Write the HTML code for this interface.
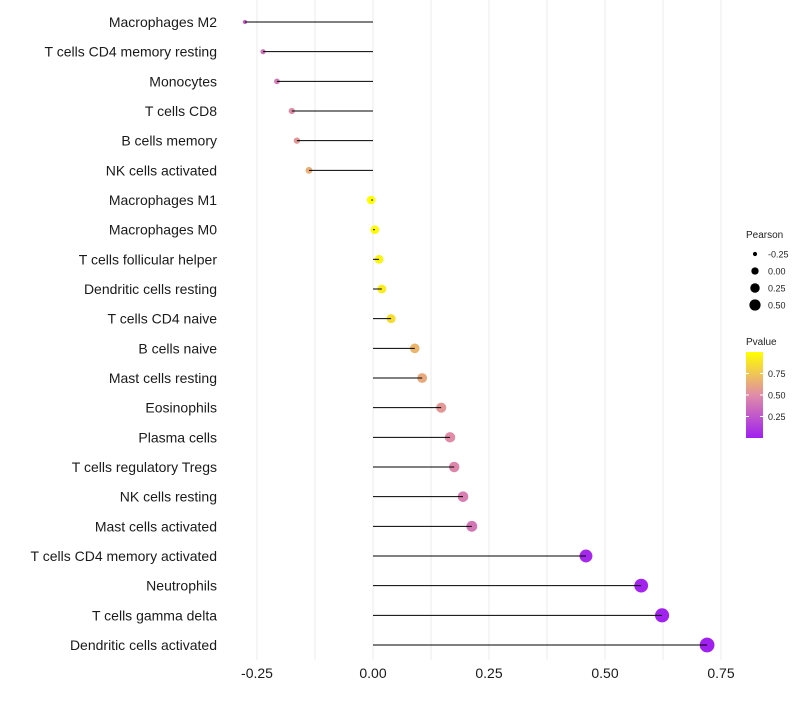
<!DOCTYPE html>
<html><head><meta charset="utf-8"><style>
body{margin:0;background:#fff;}
svg{font-family:"Liberation Sans",sans-serif;}
</style></head><body>
<svg id="chart" width="800" height="700"></svg>
<script>
const categories=["Macrophages M2","T cells CD4 memory resting","Monocytes","T cells CD8","B cells memory","NK cells activated","Macrophages M1","Macrophages M0","T cells follicular helper","Dendritic cells resting","T cells CD4 naive","B cells naive","Mast cells resting","Eosinophils","Plasma cells","T cells regulatory  Tregs ","NK cells resting","Mast cells activated","T cells CD4 memory activated","Neutrophils","T cells gamma delta","Dendritic cells activated"];
const pearson=[-0.276,-0.237,-0.207,-0.175,-0.164,-0.138,-0.004,0.004,0.013,0.019,0.039,0.09,0.106,0.147,0.166,0.175,0.194,0.213,0.459,0.578,0.623,0.72];
const pvalue=[0.3,0.38,0.42,0.5,0.55,0.65,1.0,0.98,0.95,0.92,0.85,0.68,0.63,0.55,0.5,0.47,0.44,0.4,0.04,0.02,0.01,0.0];
const xTicks=[-0.25,0,0.25,0.5,0.75];
const xTickLabels=["-0.25","0.00","0.25","0.50","0.75"];
const sizeLegend=[-0.25,0,0.25,0.5];
const sizeLegendLabels=["-0.25","0.00","0.25","0.50"];
const pLegendTicks=[0.75,0.5,0.25];

const svg=document.getElementById('chart');
const NS="http://www.w3.org/2000/svg";
function mk(t,a,p){const e=document.createElementNS(NS,t);for(const k in a)e.setAttribute(k,a[k]);(p||svg).appendChild(e);return e;}
const x=v=>373+v*464;
const y=i=>22+i*(645-22)/(categories.length-1);
const vmin=-0.3,vmax=0.75;
const r=v=>Math.sqrt(3.5+(56-3.5)*(v-vmin)/(vmax-vmin));
function lerp(a,b,t){return a.map((c,i)=>Math.round(c+(b[i]-c)*t));}
function col(p){const s=[[160,32,240],[224,140,168],[255,255,0]];p=Math.max(0,Math.min(1,p));const c=p<0.5?lerp(s[0],s[1],p/0.5):lerp(s[1],s[2],(p-0.5)/0.5);return `rgb(${c[0]},${c[1]},${c[2]})`;}

for(let v=-0.25;v<=0.751;v+=0.125){
  const g=mk('line',{x1:x(v),x2:x(v),y1:0,y2:660,stroke:'#ebebeb','stroke-width':1});
  
  
}
xTicks.forEach((v,i)=>{
  const t=mk('text',{x:x(v),y:678,'text-anchor':'middle','font-size':14,fill:'#1a1a1a'});
  t.textContent=xTickLabels[i];
  
  
});
categories.forEach((c,i)=>{
  const t=mk('text',{x:217,y:y(i)+5,'text-anchor':'end','font-size':14,fill:'#1a1a1a'});
  t.textContent=c;
  
  
  const d=mk('circle',{cx:x(pearson[i]),cy:y(i),r:r(pearson[i]),fill:col(pvalue[i])});
  
  
  const l=mk('line',{x1:x(0),x2:x(pearson[i]),y1:y(i),y2:y(i),stroke:'#000','stroke-width':1});
  
  
});
const st=mk('text',{x:746,y:238,'font-size':10,fill:'#222'});st.textContent='Pearson';


sizeLegend.forEach((v,i)=>{
  const cy=254+i*17;
  const c=mk('circle',{cx:755,cy:cy,r:r(v)*0.85,fill:'#000'});
  
  
  const t=mk('text',{x:768,y:cy+3.5,'font-size':9,fill:'#222'});t.textContent=sizeLegendLabels[i];
  
  
});
const pt=mk('text',{x:746,y:345,'font-size':10,fill:'#222'});pt.textContent='Pvalue';


const defs=mk('defs',{});
const lg=mk('linearGradient',{id:'pg',x1:0,y1:1,x2:0,y2:0},defs);
[0,0.25,0.5,0.75,1].forEach(o=>mk('stop',{offset:o,'stop-color':col(o)},lg));
const bar=mk('rect',{x:746,y:352,width:17,height:86,fill:'url(#pg)'});


pLegendTicks.forEach(v=>{
  const yy=438-v*86;
  mk('line',{x1:746,x2:749,y1:yy,y2:yy,stroke:'#fff'});
  mk('line',{x1:760,x2:763,y1:yy,y2:yy,stroke:'#fff'});
  const t=mk('text',{x:768,y:yy+3.5,'font-size':9,fill:'#222'});t.textContent=v.toFixed(2);
  
  
});
</script>
</body></html>
